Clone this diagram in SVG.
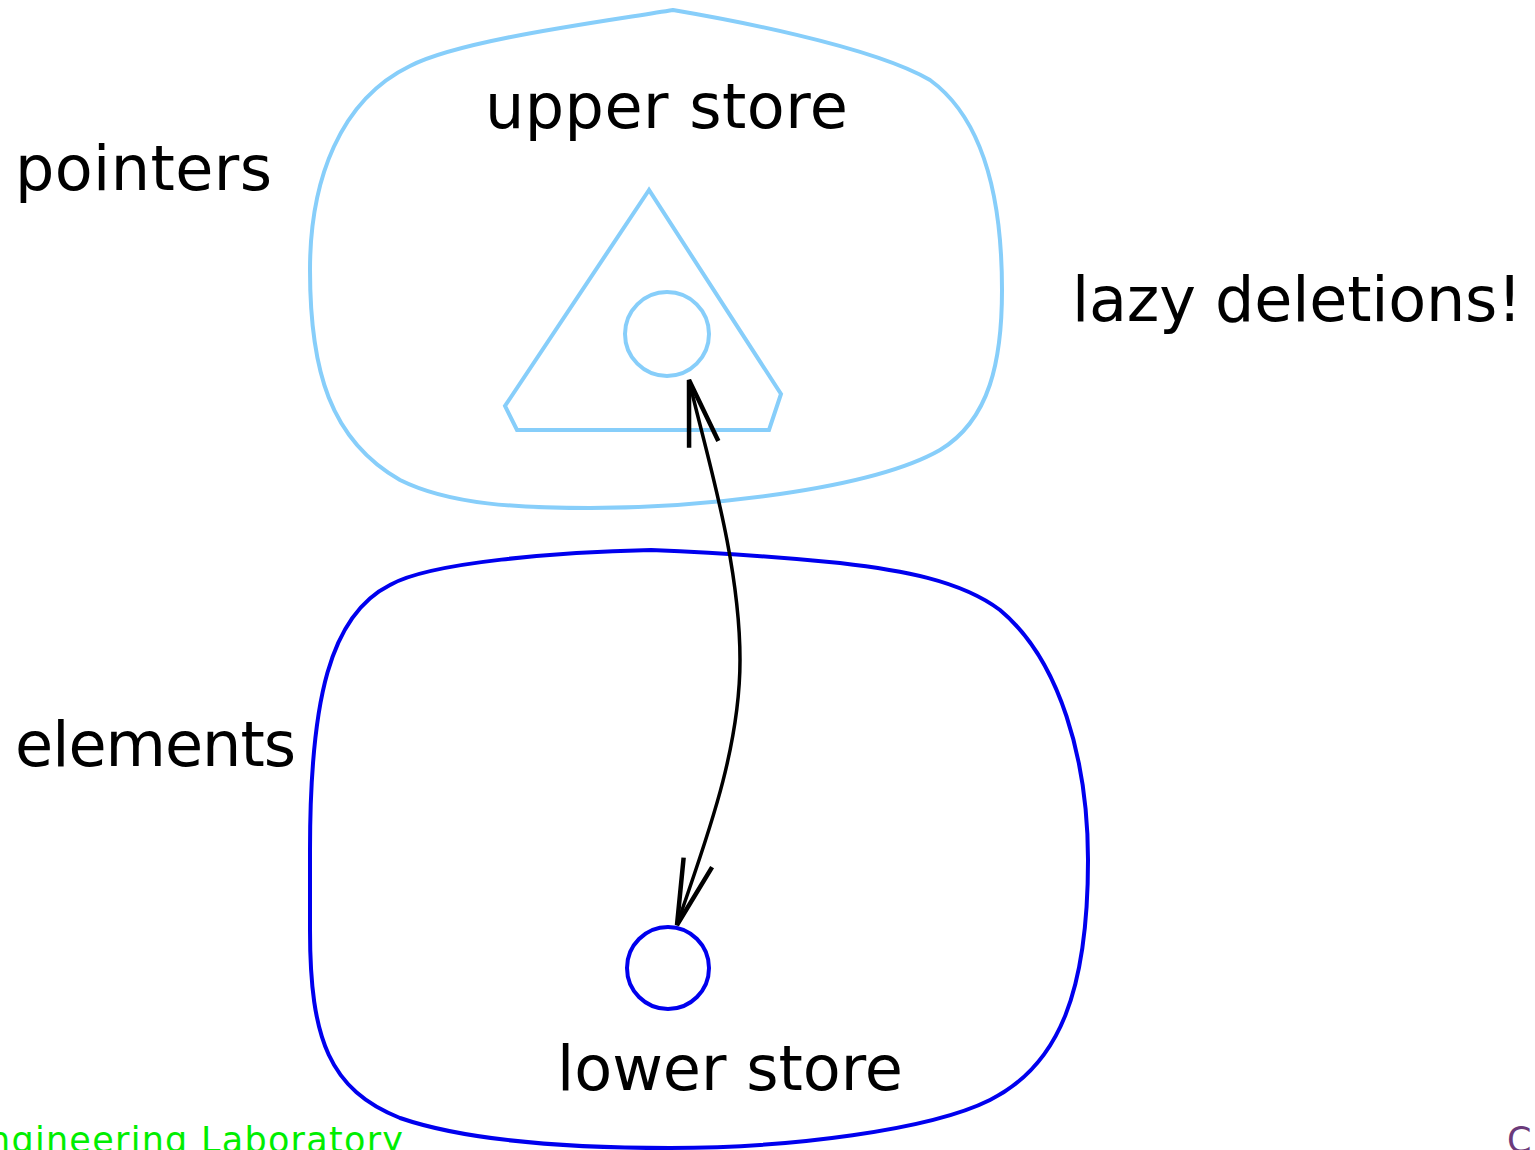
<svg xmlns="http://www.w3.org/2000/svg" width="1535" height="1150" viewBox="0 0 1535 1150">
  <style>
    .lbl { font-family: "DejaVu Sans", "Liberation Sans", sans-serif; font-size: 62px; fill: #000; }
    .foot { font-family: "DejaVu Sans", "Liberation Sans", sans-serif; font-size: 35px; }
    .upper { fill: none; stroke: #87CEFA; stroke-width: 4; }
    .lower { fill: none; stroke: #0000EE; stroke-width: 4; }
    .link { fill: none; stroke: #000; stroke-width: 3.5; }
  </style>
  <defs>
    <marker id="vhead" markerUnits="userSpaceOnUse" markerWidth="80" markerHeight="40" viewBox="-70 -20 80 40" refX="0" refY="0" orient="auto-start-reverse">
      <path d="M -66 -15 L 0 0 L -66 15" fill="none" stroke="#000" stroke-width="4.5"/>
    </marker>
  </defs>
  <rect width="1535" height="1150" fill="#fff"/>

  <g id="upper-store">
    <path class="upper" d="M 673 10 C 600 22, 460 40, 410 66 C 340 100, 310 180, 310 270 C 310 370, 330 440, 400 480 C 450 505, 520 508, 590 508 C 700 508, 870 490, 940 450 C 990 420, 1002 360, 1002 290 C 1002 200, 985 120, 930 80 C 870 45, 720 18, 673 10 Z"/>
    <text class="lbl" x="485" y="128" textLength="363">upper store</text>
  </g>

  <g id="pointer-node">
    <path class="upper" d="M 649 190 L 505 406 L 517 430 L 769 430 L 781 394 Z"/>
    <circle class="upper" cx="667" cy="334" r="42"/>
  </g>

  <g id="lower-store">
    <path class="lower" d="M 651 550 C 560 552, 430 562, 390 585 C 330 615, 310 700, 310 850 L 310 930 C 310 1040, 330 1090, 400 1118 C 470 1142, 580 1148, 670 1148 C 790 1148, 930 1130, 990 1100 C 1060 1065, 1088 990, 1088 860 C 1088 760, 1060 660, 1000 610 C 960 580, 900 570, 840 563 C 760 555, 700 552, 651 550 Z"/>
    <text class="lbl" x="557" y="1090" textLength="346">lower store</text>
  </g>

  <g id="element-node">
    <circle class="lower" cx="668" cy="968" r="41"/>
  </g>

  <g id="connectors">
    <path class="link" d="M 689 380 C 705 450, 740 560, 740 660 C 740 755, 702 850, 677 925" marker-start="url(#vhead)" marker-end="url(#vhead)"/>
  </g>

  <g id="side-labels">
    <text class="lbl" x="15" y="190" textLength="257">pointers</text>
    <text class="lbl" x="15" y="766" textLength="281">elements</text>
    <text class="lbl" x="1072" y="321" textLength="450">lazy deletions!</text>
  </g>

  <g id="footer">
    <text class="foot" x="-12" y="1152" fill="#00EE00" textLength="415">ngineering Laboratory</text>
    <text class="foot" x="1507" y="1152" fill="#6B3A7A">C</text>
  </g>
</svg>
